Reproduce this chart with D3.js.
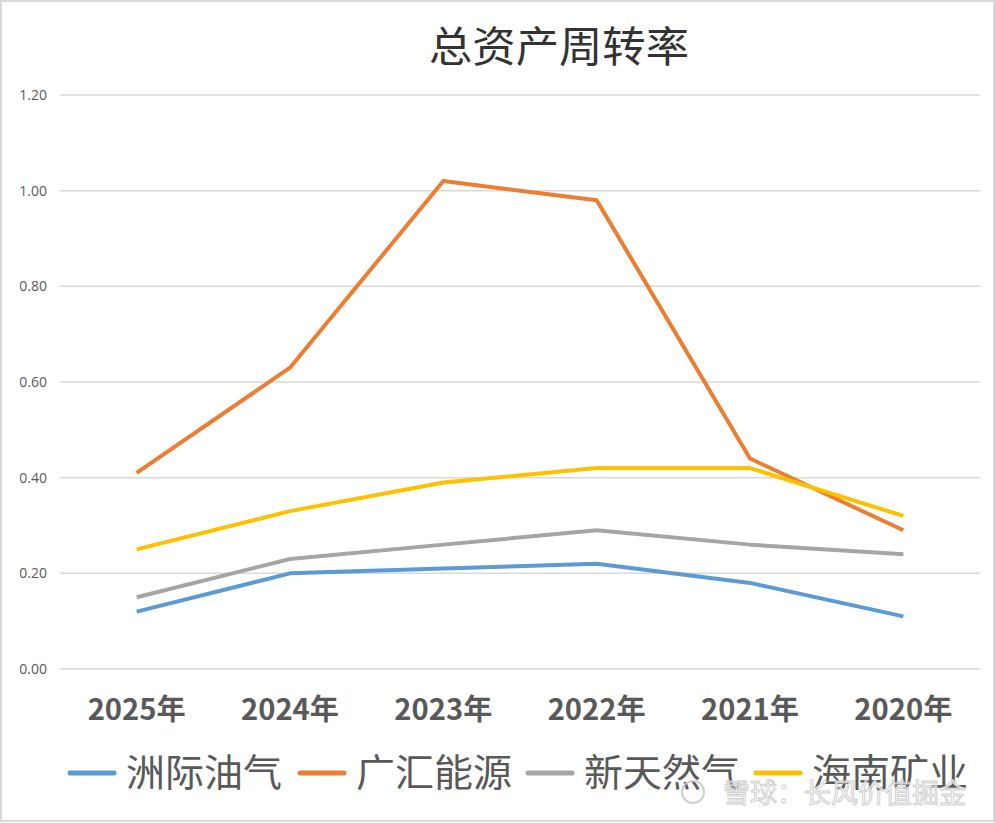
<!DOCTYPE html>
<html>
<head>
<meta charset="utf-8">
<script src="https://cdn.jsdelivr.net/npm/d3@7"></script>
<style>
  body { margin: 0; background: #fff; }
  svg { display: block; }
</style>
</head>
<body>
<div id="chart"></div>
<script>
// Chart data
const years = ['2025年', '2024年', '2023年', '2022年', '2021年', '2020年'];
const zhouji = [0.12, 0.20, 0.21, 0.22, 0.18, 0.11];
const guanghui = [0.41, 0.63, 1.02, 0.98, 0.44, 0.29];
const xintian = [0.15, 0.23, 0.26, 0.29, 0.26, 0.24];
const hainan = [0.25, 0.33, 0.39, 0.42, 0.42, 0.32];
const yTicks = [0, 0.2, 0.4, 0.6, 0.8, 1.0, 1.2];

const seriesList = [
  { name: '洲际油气', values: zhouji, color: '#5B9BD5' },
  { name: '广汇能源', values: guanghui, color: '#ED7D31' },
  { name: '新天然气', values: xintian, color: '#A5A5A5' },
  { name: '海南矿业', values: hainan, color: '#FFC000' }
];

const width = 995;
const height = 823;
const margin = { top: 95, right: 15, bottom: 154, left: 60 };
const innerHeight = height - margin.top - margin.bottom;

const svg = d3.select('#chart')
  .append('svg')
  .attr('width', width)
  .attr('height', height);

// Title
svg.append('text')
  .attr('x', 559)
  .attr('y', 62)
  .attr('text-anchor', 'middle')
  .style('font-family', '"Noto Sans CJK SC", sans-serif')
  .style('font-size', '42px')
  .style('fill', '#333333')
  .attr('textLength', 260)
  .attr('lengthAdjust', 'spacingAndGlyphs')
  .text('总资产周转率');

// scales in absolute page coordinates
const xScale = d3.scalePoint()
  .domain(years)
  .range([margin.left, width - margin.right])
  .padding(0.5);

const yScale = d3.scaleLinear()
  .domain([0, 1.2])
  .range([margin.top + innerHeight, margin.top]);

// gridlines
svg.append('g')
  .selectAll('line')
  .data(yTicks)
  .enter()
  .append('line')
  .attr('x1', margin.left)
  .attr('x2', width - margin.right)
  .attr('y1', d => yScale(d))
  .attr('y2', d => yScale(d))
  .attr('stroke', '#d9d9d9')
  .attr('stroke-width', 1.5);

// y axis labels
const fmt = d3.format('.2f');
yTicks.forEach(t => {
  svg.append('text')
    .attr('x', margin.left - 13)
    .attr('y', yScale(t) + 5)
    .attr('text-anchor', 'end')
    .style('font-family', '"Open Sans", "DejaVu Sans", sans-serif')
    .style('font-size', '14px')
    .style('fill', '#595959')
    .text(fmt(t));
});

// x axis labels
years.forEach(y => {
  svg.append('text')
    .attr('x', xScale(y))
    .attr('y', yScale(0) + 51)
    .attr('text-anchor', 'middle')
    .style('font-family', '"Liberation Sans Narrow", "Noto Sans CJK SC", sans-serif')
    .style('font-size', '29px')
    .style('font-weight', 'bold')
    .style('fill', '#595959')
    .attr('textLength', 98)
    .attr('lengthAdjust', 'spacingAndGlyphs')
    .text(y);
});

// lines
const line = d3.line()
  .x((d, i) => xScale(years[i]))
  .y(d => yScale(d));

svg.selectAll('.series')
  .data(seriesList)
  .enter()
  .append('path')
  .attr('class', 'series')
  .attr('fill', 'none')
  .attr('stroke', d => d.color)
  .attr('stroke-width', 4)
  .attr('stroke-linejoin', 'round')
  .attr('d', d => line(d.values));

// legend
const legendX = [70, 300, 528, 756];
seriesList.forEach((s, i) => {
  svg.append('line')
    .attr('x1', legendX[i]).attr('x2', legendX[i] + 44)
    .attr('y1', 773).attr('y2', 773)
    .attr('stroke', s.color)
    .attr('stroke-width', 5)
    .attr('stroke-linecap', 'round');
  svg.append('text')
    .attr('x', legendX[i] + 56)
    .attr('y', 786)
    .style('font-family', '"Noto Sans CJK SC", sans-serif')
    .style('font-size', '38px')
    .style('fill', '#595959')
    .attr('textLength', 156)
    .attr('lengthAdjust', 'spacingAndGlyphs')
    .text(s.name);
});

// watermark
const wm = svg.append('g').style('opacity', 0.85);
wm.append('circle')
  .attr('cx', 693).attr('cy', 792).attr('r', 11)
  .attr('fill', 'none')
  .attr('stroke', '#c8c8c8')
  .attr('stroke-width', 2);
wm.append('text')
  .attr('x', 966)
  .attr('y', 803)
  .attr('text-anchor', 'end')
  .style('font-family', '"Noto Sans CJK SC", sans-serif')
  .style('font-size', '27px')
  .style('fill', '#ffffff')
  .style('stroke', '#c8c8c8')
  .style('stroke-width', 1)
  .text('雪球：长风价值掘金');

// frame border
svg.append('rect')
  .attr('x', 1).attr('y', 1)
  .attr('width', width - 2).attr('height', height - 3)
  .attr('fill', 'none')
  .attr('stroke', '#d9d9d9')
  .attr('stroke-width', 2);
</script>
</body>
</html>
